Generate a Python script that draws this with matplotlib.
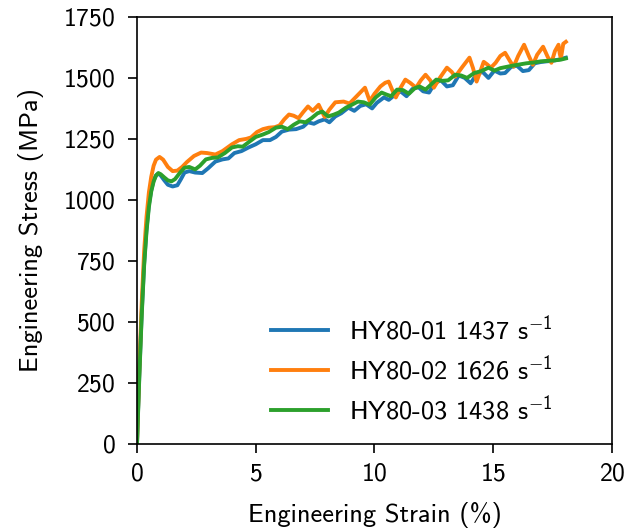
import matplotlib
matplotlib.use("Agg")
import matplotlib.pyplot as plt

# HY80-01 (1437 /s)
strain_01 = [0, 0.05, 0.1, 0.2, 0.3, 0.4, 0.5, 0.6, 0.7, 0.8, 0.9, 1.0, 1.15, 1.3, 1.5, 1.7,
             1.85, 2.0, 2.2, 2.45, 2.75, 3.0, 3.3, 3.6, 3.85, 4.1, 4.4, 4.7, 5.0, 5.3, 5.6,
             5.85, 6.1, 6.4, 6.7, 7.0, 7.2, 7.45, 7.65, 7.9, 8.1, 8.35, 8.6, 8.9, 9.15, 9.4,
             9.65, 9.9, 10.1, 10.4, 10.6, 10.85, 11.1, 11.35, 11.6, 11.85, 12.05, 12.3, 12.55,
             12.8, 13.05, 13.3, 13.55, 13.8, 14.05, 14.3, 14.55, 14.8, 15.05, 15.3, 15.5,
             15.75, 16.0, 16.25, 16.5, 16.75, 17.0, 17.25, 17.5, 17.75, 18.06]
stress_01 = [0, 150, 290, 540, 740, 880, 980, 1040, 1080, 1100, 1108, 1100, 1080, 1062, 1055,
             1060, 1085, 1112, 1118, 1112, 1110, 1130, 1157, 1166, 1170, 1192, 1200, 1215, 1228,
             1245, 1245, 1258, 1280, 1288, 1290, 1300, 1318, 1312, 1322, 1330, 1318, 1342, 1355,
             1378, 1365, 1385, 1392, 1375, 1398, 1420, 1410, 1430, 1445, 1425, 1455, 1462, 1445,
             1440, 1480, 1490, 1465, 1470, 1510, 1500, 1478, 1515, 1525, 1500, 1530, 1518, 1520,
             1545, 1550, 1528, 1532, 1560, 1565, 1568, 1570, 1575, 1583]

# HY80-02 (1626 /s)
strain_02 = [0, 0.05, 0.1, 0.2, 0.3, 0.4, 0.5, 0.6, 0.7, 0.8, 0.95, 1.1, 1.3, 1.5, 1.7, 1.9,
             2.1, 2.4, 2.7, 2.95, 3.3, 3.6, 4.0, 4.3, 4.6, 4.8, 5.05, 5.3, 5.55, 5.8, 6.0, 6.2,
             6.4, 6.6, 6.8, 7.0, 7.2, 7.4, 7.65, 7.9, 8.1, 8.35, 8.7, 8.95, 9.15, 9.35, 9.6,
             9.8, 10.0, 10.25, 10.45, 10.6, 10.75, 10.9, 11.1, 11.3, 11.5, 11.75, 11.95, 12.15,
             12.35, 12.5, 12.75, 13.05, 13.25, 13.4, 13.7, 14.0, 14.15, 14.3, 14.45, 14.6,
             14.75, 14.9, 15.1, 15.3, 15.5, 15.7, 15.86, 16.05, 16.3, 16.5, 16.67, 16.85, 17.1,
             17.3, 17.45, 17.6, 17.75, 17.8, 17.85, 17.95, 18.06]
stress_02 = [0, 160, 310, 580, 790, 930, 1030, 1095, 1140, 1165, 1176, 1165, 1135, 1118, 1120,
             1135, 1155, 1180, 1194, 1192, 1186, 1200, 1228, 1245, 1250, 1256, 1278, 1290, 1296,
             1298, 1305, 1330, 1350, 1345, 1335, 1360, 1383, 1365, 1390, 1340, 1370, 1400, 1403,
             1395, 1415, 1435, 1460, 1405, 1435, 1465, 1480, 1485, 1450, 1420, 1460, 1493, 1480,
             1460, 1490, 1513, 1490, 1460, 1500, 1542, 1525, 1505, 1545, 1583, 1540, 1485, 1525,
             1566, 1555, 1542, 1562, 1590, 1603, 1570, 1546, 1590, 1636, 1590, 1554, 1595, 1628,
             1585, 1562, 1610, 1636, 1600, 1580, 1640, 1648]

# HY80-03 (1438 /s)
strain_03 = [0, 0.05, 0.1, 0.2, 0.3, 0.4, 0.5, 0.6, 0.7, 0.8, 0.9, 1.0, 1.15, 1.3, 1.45, 1.6,
             1.8, 2.0, 2.2, 2.45, 2.65, 2.9, 3.15, 3.4, 3.7, 4.0, 4.25, 4.45, 4.75, 5.0, 5.3,
             5.55, 5.85, 6.1, 6.35, 6.6, 6.85, 7.1, 7.35, 7.6, 7.8, 8.05, 8.3, 8.5, 8.8, 9.05,
             9.3, 9.55, 9.8, 10.05, 10.3, 10.5, 10.7, 10.95, 11.2, 11.45, 11.7, 11.9, 12.15,
             12.35, 12.6, 12.85, 13.1, 13.4, 13.65, 13.9, 14.2, 14.5, 14.8, 15.05, 15.3, 15.55,
             15.8, 16.1, 16.4, 16.7, 17.0, 17.3, 17.6, 17.85, 18.06]
stress_03 = [0, 140, 280, 530, 730, 870, 970, 1035, 1075, 1100, 1110, 1105, 1092, 1080, 1076,
             1085, 1110, 1132, 1135, 1125, 1140, 1166, 1172, 1174, 1192, 1215, 1220, 1218, 1240,
             1258, 1268, 1278, 1296, 1300, 1290, 1308, 1322, 1318, 1335, 1355, 1362, 1342, 1350,
             1358, 1378, 1390, 1403, 1400, 1390, 1420, 1440, 1432, 1425, 1452, 1450, 1435, 1458,
             1465, 1452, 1470, 1493, 1488, 1490, 1513, 1510, 1500, 1520, 1528, 1542, 1530, 1540,
             1545, 1550, 1555, 1560, 1563, 1568, 1570, 1572, 1575, 1580]

labels = [r"HY80-01 1437 s$^{-1}$", r"HY80-02 1626 s$^{-1}$", r"HY80-03 1438 s$^{-1}$"]

plt.rcParams["font.family"] = ["cmss10", "DejaVu Sans"]
plt.rcParams["mathtext.fontset"] = "custom"
plt.rcParams["mathtext.rm"] = "cmss10"
plt.rcParams["mathtext.it"] = "cmss10"
plt.rcParams["axes.unicode_minus"] = False
plt.rcParams["axes.formatter.use_mathtext"] = True

fig = plt.figure(figsize=(6.27, 5.29), dpi=100)
ax = fig.add_axes([0.2185, 0.161, 0.7575, 0.807])

ax.plot(strain_01, stress_01, color="#1f77b4", lw=2.8, label=labels[0])
ax.plot(strain_02, stress_02, color="#ff7f0e", lw=2.8, label=labels[1])
ax.plot(strain_03, stress_03, color="#2ca02c", lw=2.8, label=labels[2])

ax.set_xlim(0, 20)
ax.set_ylim(0, 1750)
ax.set_xticks([0, 5, 10, 15, 20])
ax.set_yticks([0, 250, 500, 750, 1000, 1250, 1500, 1750])
ax.tick_params(labelsize=18.5, length=6.5, width=1.2)
ax.tick_params(axis="y", pad=9)
ax.tick_params(axis="x", pad=7)
for s in ax.spines.values():
    s.set_linewidth(1.2)

ax.set_xlabel("Engineering Strain (%)", fontsize=19, labelpad=12)
ax.set_ylabel("Engineering Stress (MPa)", fontsize=19, labelpad=14)
ax.legend(loc="lower right", frameon=False, fontsize=19, handlelength=2.15,
          labelspacing=0.38, bbox_to_anchor=(0.926, -0.01))

fig.savefig("out.png", dpi=100)
